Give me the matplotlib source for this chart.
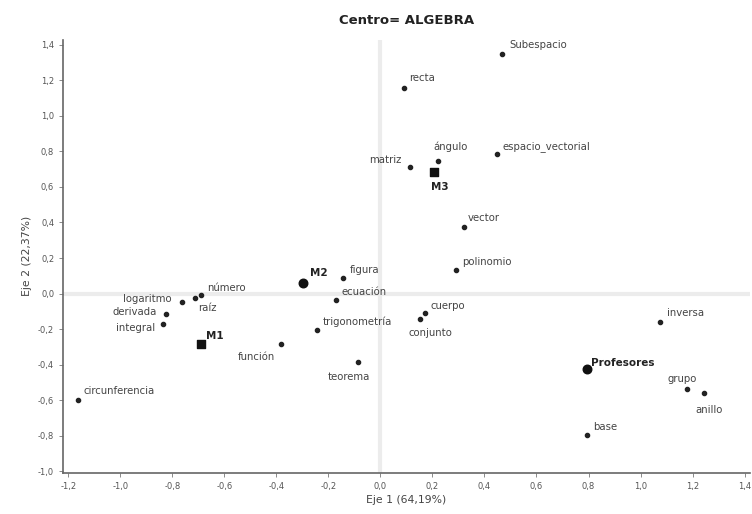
import matplotlib.pyplot as plt
from matplotlib.ticker import MultipleLocator, FuncFormatter

# Coordenadas de las palabras en el plano factorial
palabras = ["Subespacio", "recta", "matriz", "ángulo", "espacio_vectorial",
            "vector", "polinomio", "figura", "ecuación", "trigonometría",
            "función", "teorema", "logaritmo", "número", "raíz", "derivada",
            "integral", "circunferencia", "cuerpo", "conjunto", "inversa",
            "grupo", "anillo", "base"]
eje1 = [0.466, 0.090, 0.113, 0.221, 0.447,
        0.320, 0.290, -0.145, -0.171, -0.244,
        -0.382, -0.087, -0.763, -0.690, -0.712, -0.824,
        -0.835, -1.162, 0.170, 0.151, 1.076,
        1.180, 1.245, 0.796]
eje2 = [1.346, 1.160, 0.715, 0.744, 0.783,
        0.377, 0.135, 0.090, -0.039, -0.208,
        -0.287, -0.383, -0.045, -0.006, -0.028, -0.118,
        -0.169, -0.597, -0.107, -0.146, -0.158,
        -0.535, -0.558, -0.794]

# Modalidades suplementarias (grupos)
grupos = ["M1", "M2", "M3", "Profesores"]
grupos_eje1 = [-0.690, -0.298, 0.205, 0.796]
grupos_eje2 = [-0.287, 0.062, 0.687, -0.423]

# desplazamiento de cada etiqueta en pixeles (dx, dy, alineacion)
pos_palabras = [(8, 9, "left"), (5, 10, "left"), (-8, 7, "right"), (-5, 15, "left"),
                (6, 8, "left"), (4, 9, "left"), (6, 8, "left"), (7, 8, "left"),
                (6, 8, "left"), (6, 9, "left"), (-6, -13, "right"), (12, -15, "right"),
                (-10, 3, "right"), (6, 7, "left"), (3, -10, "left"), (-9, 2, "right"),
                (-8, -4, "right"), (5, 9, "left"), (6, 7, "left"), (-11, -14, "left"),
                (7, 9, "left"), (-20, 10, "left"), (-9, -17, "left"), (6, 8, "left")]
pos_grupos = [(5, 8, "left"), (7, 10, "left"), (-3, -15, "left"), (4, 6, "left")]
marca_grupos = ["s", "o", "s", "o"]

fig = plt.figure(figsize=(7.52, 5.14), dpi=100)
ax = fig.add_axes([0.084, 0.080, 0.913, 0.843])

ax.axhline(0, color="#ececec", lw=3, zorder=0)
ax.axvline(0, color="#ececec", lw=3, zorder=0)

ax.scatter(eje1, eje2, s=9, color="#222222", zorder=3)
for nombre, x, y, (dx, dy, ha) in zip(palabras, eje1, eje2, pos_palabras):
    ax.annotate(nombre, (x, y), xytext=(dx, dy), textcoords="offset pixels",
                ha=ha, va="center", fontsize=7.3, color="#444444")

for nombre, x, y, m, (dx, dy, ha) in zip(grupos, grupos_eje1, grupos_eje2,
                                         marca_grupos, pos_grupos):
    ax.scatter([x], [y], s=38, marker=m, color="#111111", zorder=4)
    ax.annotate(nombre, (x, y), xytext=(dx, dy), textcoords="offset pixels",
                ha=ha, va="center", fontsize=7.5, fontweight="bold", color="#222222")

ax.set_xlim(-1.22, 1.42)
ax.set_ylim(-1.01, 1.43)
ax.xaxis.set_major_locator(MultipleLocator(0.2))
ax.yaxis.set_major_locator(MultipleLocator(0.2))
coma = FuncFormatter(lambda v, p: f"{v:.1f}".replace(".", ",").replace("-0,0", "0,0"))
ax.xaxis.set_major_formatter(coma)
ax.yaxis.set_major_formatter(coma)
ax.tick_params(labelsize=6, labelcolor="#555555", length=3, width=0.6,
               color="#777777")

for s in ["top", "right"]:
    ax.spines[s].set_visible(False)
for s in ["left", "bottom"]:
    ax.spines[s].set_color("#666666")
    ax.spines[s].set_linewidth(1.2)

ax.set_xlabel("Eje 1 (64,19%)", fontsize=7.8, color="#444444", labelpad=3)
ax.set_ylabel("Eje 2 (22,37%)", fontsize=7.8, color="#444444", labelpad=4)
ax.set_title("Centro= ALGEBRA", fontsize=9.5, fontweight="bold", color="#222222", pad=11)

fig.savefig("out.png", dpi=100, facecolor="white")
